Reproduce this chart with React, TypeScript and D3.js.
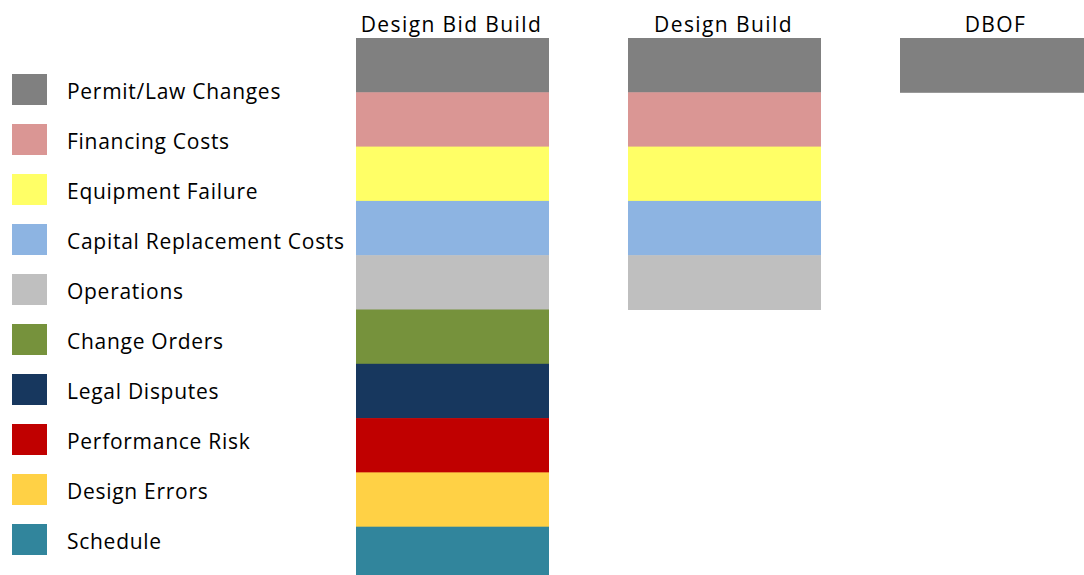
import React, { useEffect, useRef } from "react";
import * as d3 from "d3";

const categories = [
  "Permit/Law Changes",
  "Financing Costs",
  "Equipment Failure",
  "Capital Replacement Costs",
  "Operations",
  "Change Orders",
  "Legal Disputes",
  "Performance Risk",
  "Design Errors",
  "Schedule",
];
const colors = [
  "#808080",
  "#DA9694",
  "#FFFF66",
  "#8DB4E2",
  "#BFBFBF",
  "#76923C",
  "#17375E",
  "#C00000",
  "#FFD145",
  "#31859C",
];
const columns = ["Design Bid Build", "Design Build", "DBOF"];
// number of risk categories retained by each delivery method (from the top)
const riskCounts = [10, 5, 1];

const W = 1084;
const H = 575;
const FONT = "'Open Sans', 'Noto Sans', sans-serif";

export default function App() {
  const ref = useRef<SVGSVGElement>(null);
  useEffect(() => {
    const svg = d3.select(ref.current);
    svg.selectAll("*").remove();

    const x = d3
      .scaleBand<string>()
      .domain(columns)
      .range([356, 1093])
      .paddingInner(79 / 272)
      .paddingOuter(0);
    const y = d3
      .scaleBand<string>()
      .domain(categories)
      .range([38, 581])
      .padding(0);
    const color = d3.scaleOrdinal<string, string>().domain(categories).range(colors);

    const cells: { col: string; cat: string }[] = [];
    columns.forEach((col, ci) => {
      categories.slice(0, riskCounts[ci]).forEach((cat) => cells.push({ col, cat }));
    });

    svg
      .append("g")
      .selectAll("rect")
      .data(cells)
      .join("rect")
      .attr("x", (d) => x(d.col)!)
      .attr("y", (d) => y(d.cat)!)
      .attr("width", x.bandwidth())
      .attr("height", y.bandwidth() + 0.5)
      .attr("fill", (d) => color(d.cat));

    svg
      .append("g")
      .selectAll("text")
      .data(columns)
      .join("text")
      .attr("x", (d) => x(d)! + x.bandwidth() / 2 - 1)
      .attr("y", 32)
      .attr("text-anchor", "middle")
      .attr("font-family", FONT)
      .attr("font-size", 21)
      .attr("letter-spacing", 1.4)
      .attr("fill", "#000")
      .text((d) => d);

    const ly = d3
      .scaleBand<string>()
      .domain(categories)
      .range([65, 565])
      .padding(0);

    const leg = svg
      .append("g")
      .selectAll("g")
      .data(categories)
      .join("g")
      .attr("transform", (d) => `translate(0,${ly(d)!})`);
    leg
      .append("rect")
      .attr("x", 12)
      .attr("y", 9)
      .attr("width", 35)
      .attr("height", 31)
      .attr("fill", (d) => color(d));
    leg
      .append("text")
      .attr("x", 67)
      .attr("y", 34.3)
      .attr("font-family", FONT)
      .attr("font-size", 21)
      .attr("letter-spacing", 0.72)
      .attr("fill", "#000")
      .text((d) => d);
  }, []);

  return (
    <svg
      ref={ref}
      width={W}
      height={H}
      style={{ position: "fixed", left: 0, top: 0, background: "#fff" }}
    />
  );
}
